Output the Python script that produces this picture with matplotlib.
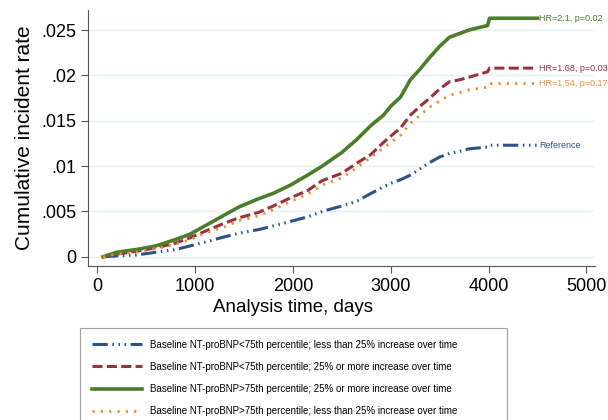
import matplotlib.pyplot as plt

plt.rcParams['font.family'] = ['Liberation Sans', 'DejaVu Sans']

# Thời gian theo dõi (ngày)
days = [60, 200, 400, 600, 800, 950, 1100, 1300, 1450, 1650, 1800, 1975, 2150, 2300,
        2500, 2650, 2800, 2925, 3000, 3100, 3200, 3300, 3400, 3500, 3600, 3700, 3800,
        3990, 4010, 4500]

# Tỉ lệ tích lũy của 4 nhóm
ref = [0, .0001, .0002, .0005, .0008, .0012, .0016, .0022, .0026, .0030, .0034, .0039,
       .0044, .0050, .0056, .0061, .0070, .0077, .0081, .0085, .0090, .0097, .0104,
       .0110, .0114, .0116, .0119, .0121, .0123, .0123]
red = [0, .0003, .0006, .0010, .0015, .0021, .0028, .0037, .0043, .0049, .0056, .0065,
       .0073, .0084, .0092, .0103, .0113, .0126, .0133, .0142, .0156, .0166, .0175,
       .0185, .0193, .0195, .0198, .0204, .0208, .0208]
green = [0, .0005, .0008, .0012, .0019, .0025, .0034, .0046, .0055, .0064, .0070, .0079,
         .0090, .0100, .0115, .0129, .0145, .0156, .0166, .0176, .0195, .0207, .0220,
         .0232, .0242, .0246, .0250, .0255, .0263, .0263]
orange = [0, .0003, .0005, .0009, .0014, .0019, .0026, .0033, .0040, .0045, .0052, .0061,
          .0069, .0079, .0087, .0098, .0110, .0120, .0126, .0134, .0147, .0156, .0165,
          .0172, .0178, .0181, .0184, .0187, .0191, .0191]

labels = ["Baseline NT-proBNP<75th percentile; less than 25% increase over time",
          "Baseline NT-proBNP<75th percentile; 25% or more increase over time",
          "Baseline NT-proBNP>75th percentile; 25% or more increase over time",
          "Baseline NT-proBNP>75th percentile; less than 25% increase over time"]
end_text = ["Reference", "HR=1.68, p=0.03", "HR=2.1, p=0.02", "HR=1.54, p=0.17"]

c_blue, c_red, c_green, c_orange = '#2d5289', '#97323f', '#4c7d2a', '#f28b2b'

fig = plt.figure(figsize=(6.08, 4.2), dpi=100)
ax = fig.add_axes([0.145, 0.367, 0.834, 0.609])

ax.plot(days, ref, color=c_blue, lw=2.2,
        dashes=(5, 1.5, 0.5, 1.5, 0.5, 1.5, 0.5, 1.5), label=labels[0])
ax.plot(days, red, color=c_red, lw=2.2, dashes=(3.3, 1.4), label=labels[1])
ax.plot(days, green, color=c_green, lw=2.6, label=labels[2])
ax.plot(days, orange, color=c_orange, lw=2.0, dashes=(0.8, 2.2), label=labels[3])

for ys, t, c in zip([ref, red, green, orange], end_text, [c_blue, c_red, c_green, c_orange]):
    ax.text(days[-1] + 20, ys[-1], t, color=c, fontsize=6.5, va='center', ha='left')

ax.set_xlim(-92, 5090)
ax.set_ylim(-0.001, 0.0272)
ax.set_xticks([0, 1000, 2000, 3000, 4000, 5000])
ax.set_yticks([0, 0.005, 0.01, 0.015, 0.02, 0.025])
ax.set_yticklabels(['0', '.005', '.01', '.015', '.02', '.025'])
ax.tick_params(labelsize=13, direction='out', length=5, color='#555555')
ax.grid(axis='y', color='#e6f0f2', lw=1)
ax.set_axisbelow(True)
for s in ['top', 'right']:
    ax.spines[s].set_visible(False)
for s in ['left', 'bottom']:
    ax.spines[s].set_color('#555555')

ax.set_xlabel('Analysis time, days', fontsize=13.5, labelpad=1)
ax.xaxis.set_label_coords(0.404, -0.13)
ax.set_ylabel('Cumulative incident rate', fontsize=15, labelpad=5)

leg = fig.legend(loc='upper left', bbox_to_anchor=(80 / 608, 0, 427 / 608, 92 / 420),
                 mode='expand', fontsize=7.0, borderaxespad=0,
                 frameon=True, fancybox=False, edgecolor='#888888',
                 handlelength=5.2, borderpad=1.2, labelspacing=1.25, handletextpad=0.8)
leg.get_frame().set_linewidth(0.8)

fig.savefig('out.png', dpi=100)
